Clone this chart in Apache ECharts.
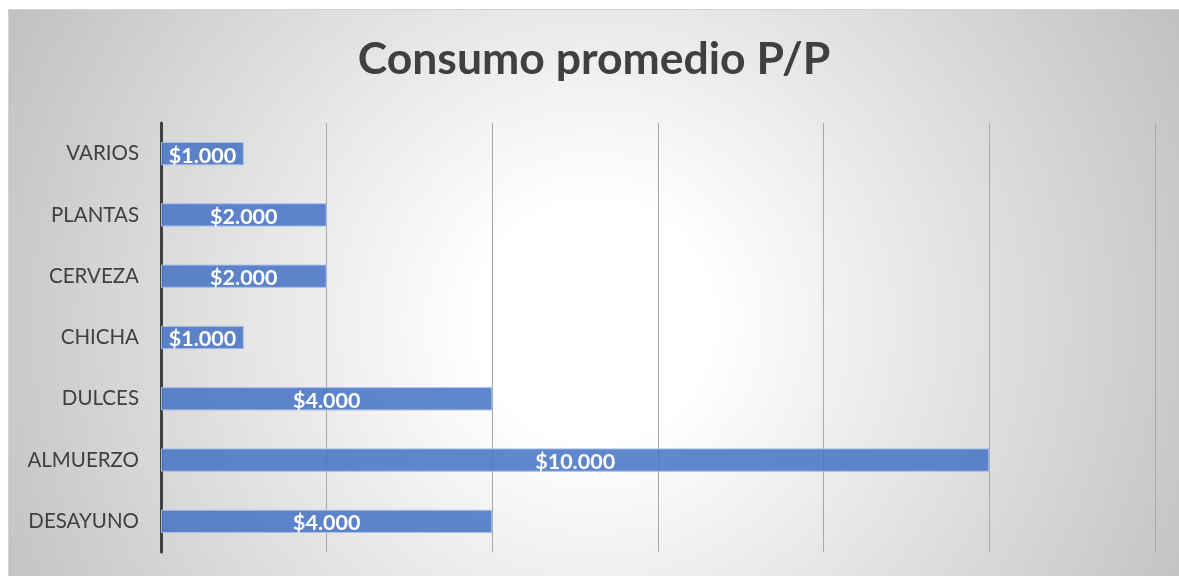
<!DOCTYPE html>
<html>
<head>
<meta charset="utf-8">
<script src="https://cdn.jsdelivr.net/npm/echarts@6/dist/echarts.min.js"></script>
<style>
  html, body { margin: 0; padding: 0; background: #ffffff; }
  #consumoChart {
    position: absolute; left: 8px; top: 9px;
    width: 1170px; height: 566px;
    border: 1px solid #d4d4d4;
  }
</style>
</head>
<body>
<div id="consumoChart"></div>
<script>
// categorias de abajo hacia arriba
const categorias = ['DESAYUNO', 'ALMUERZO', 'DULCES', 'CHICHA', 'CERVEZA', 'PLANTAS', 'VARIOS'];
const montos = [4000, 10000, 4000, 1000, 2000, 2000, 1000];

function formatoPesos(v) {
    return '$' + String(v).replace(/\B(?=(\d{3})+(?!\d))/g, '.');
}

const chart = echarts.init(document.getElementById('consumoChart'));

chart.setOption({
    backgroundColor: {
        type: 'radial', x: 0.5, y: 0.55, r: 1.15,
        colorStops: [
            { offset: 0, color: '#ffffff' },
            { offset: 0.18, color: '#ffffff' },
            { offset: 1, color: '#c2c2c2' }
        ]
    },
    title: {
        text: 'Consumo promedio P/P',
        left: 'center',
        top: 22,
        textStyle: {
            fontFamily: 'Lato',
            fontSize: 44.5,
            fontWeight: 'bold',
            color: '#404040'
        }
    },
    grid: { left: 152, right: 24, top: 113, bottom: 24 },
    xAxis: {
        type: 'value',
        min: 0,
        max: 12000,
        interval: 2000,
        axisLabel: { show: false },
        axisLine: { show: false },
        axisTick: { show: false },
        splitLine: { lineStyle: { color: '#a8a8a8', width: 1 } }
    },
    yAxis: {
        type: 'category',
        data: categorias,
        axisTick: { show: false },
        axisLine: { lineStyle: { color: '#404040', width: 3 } },
        axisLabel: {
            fontFamily: 'Lato',
            fontSize: 20.5,
            color: '#404040',
            margin: 22
        }
    },
    series: [{
        name: 'Consumo promedio',
        type: 'bar',
        data: montos,
        barCategoryGap: '62%',
        itemStyle: {
            color: 'rgba(68,114,196,0.85)',
            borderColor: '#a9bfe6',
            borderWidth: 1
        },
        label: {
            show: true,
            position: 'inside',
            offset: [0, 2],
            formatter: p => formatoPesos(p.value),
            fontFamily: 'Lato',
            fontSize: 21.5,
            fontWeight: 'bold',
            color: '#ffffff'
        }
    }]
});
</script>
</body>
</html>
